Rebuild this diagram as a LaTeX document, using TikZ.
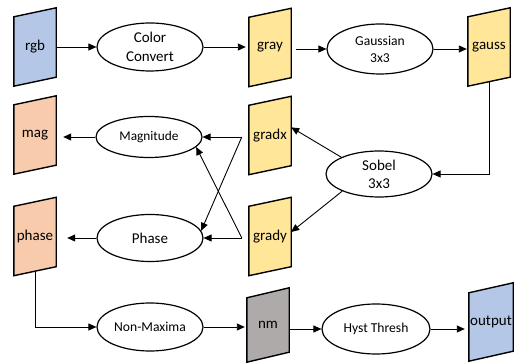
\documentclass[tikz,border=0pt]{standalone}
\usepackage{fontspec}
\setmainfont{Carlito}
\usetikzlibrary{arrows.meta,calc,shapes.geometric}
\pgfdeclarelayer{background}
\pgfsetlayers{background,main}
\definecolor{cblue}{HTML}{B4C7E7}
\definecolor{cyellow}{HTML}{FFE699}
\definecolor{cpeach}{HTML}{F8CBAD}
\definecolor{cgray}{HTML}{AEAAAA}
\newcommand\slantbox[3]{%
  \begin{pgfonlayer}{background}
  \draw[boxline, fill=#2] ($(#1.north west)+(0,#3)$) -- ($(#1.north east)+(0,-#3)$) -- ($(#1.south east)+(0,-#3)$) -- ($(#1.south west)+(0,#3)$) -- cycle;
  \end{pgfonlayer}}
\begin{document}
\begin{tikzpicture}[x=1pt,y=-1pt,
  docbox/.style={minimum width=42pt, minimum height=69pt, inner sep=0pt, font=\fontsize{15}{18}\selectfont},
  boxline/.style={line width=1.4pt, line join=miter},
  proc/.style={ellipse, draw, line width=1.2pt, minimum width=106pt, minimum height=48pt, inner sep=0pt, align=center, font=\fontsize{15}{19}\selectfont},
  smallt/.style={font=\fontsize{13.6}{17}\selectfont},
  arr/.style={-{Triangle[length=8pt,width=7pt]}, line width=0.9pt}]
\useasboundingbox (0,0) rectangle (514,363);
% data boxes
\node[docbox] (rgb) at (35,47) {rgb};
\node[docbox] (gray) at (270,47.5) {gray};
\node[docbox] (gauss) at (489,47) {gauss};
\node[docbox] (mag) at (35,135) {mag};
\node[docbox] (phase) at (35,236.5) {phase};
\node[docbox] (gradx) at (270,135.5) {gradx};
\node[docbox] (grady) at (270,236.5) {grady};
\node[docbox, minimum height=64pt] (nm) at (268,325) {nm};
\node[docbox, minimum width=44pt, minimum height=68pt] (output) at (491,322) {output};
\slantbox{rgb}{cblue}{4.5}
\slantbox{gray}{cyellow}{4.5}
\slantbox{gauss}{cyellow}{4.5}
\slantbox{mag}{cpeach}{4.5}
\slantbox{phase}{cpeach}{4.5}
\slantbox{gradx}{cyellow}{4.5}
\slantbox{grady}{cyellow}{4.5}
\slantbox{nm}{cgray}{5}
\slantbox{output}{cblue}{5}
% processes
\node[proc] (cc) at (150,47) {Color\\Convert};
\node[proc, smallt, minimum height=50pt] (gs) at (380,49) {Gaussian\\3x3};
\node[proc, smallt, minimum height=41pt, font=\fontsize{13.3}{16}\selectfont] (mgn) at (149,137) {Magnitude};
\node[proc, minimum height=47pt] (phs) at (150,238) {Phase};
\node[proc, minimum height=46pt, font=\fontsize{15}{18}\selectfont] (sob) at (379,174) {Sobel\\3x3};
\node[proc, smallt] (nmx) at (150,327) {Non-Maxima};
\node[proc, smallt, minimum width=108pt, minimum height=50pt] (hys) at (376,329) {Hyst Thresh};
% junctions left of gradx / grady
\coordinate (jx) at ($(gradx.west)+(-7,1.5)$);
\coordinate (jy) at ($(grady.west)+(-7,1.5)$);
% connectors
\draw[arr] (rgb) -- (cc);
\draw[arr, shorten >=3pt] (cc) -- (gray.west |- cc.east);
\draw[arr, shorten <=5pt] (gray.east |- gs.west) -- (gs.west);
\draw[arr, shorten >=1pt] (gs.east) -- (gauss.west |- gs.east);
\draw[arr] (gauss.south) |- (sob.east);
\draw[arr] (sob.156) -- (gradx.21);
\draw[arr] (sob.205) -- (grady.12);
\draw[arr] (jx) -- (mgn.east);
\draw[arr] (jx) -- (phs.8);
\draw[arr] (jy) -- (phs.east);
\draw[arr] (jy) -- (mgn.-12);
\draw[arr, shorten >=7pt] (mgn.west) -- (mag.east |- mgn.west);
\draw[arr, shorten >=11pt] (phs.west) -- (phase.east |- phs.west);
\draw[arr] (phase.south) |- (nmx.west);
\draw[arr, shorten >=2pt] (nmx.east) -- (nm.west |- nmx.east);
\draw[arr] (nm.east |- hys.west) -- (hys.west);
\draw[arr, shorten >=4pt] (hys.east) -- (output.west |- hys.east);
\end{tikzpicture}
\end{document}
